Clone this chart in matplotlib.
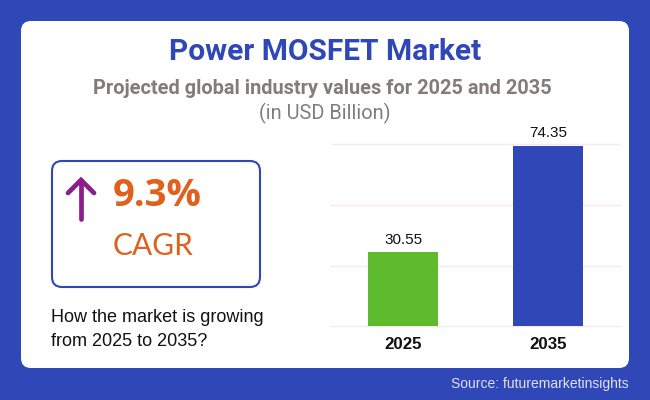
import matplotlib
matplotlib.use("Agg")
from matplotlib import pyplot as plt
from matplotlib.patches import FancyBboxPatch

years = ["2025", "2035"]
values = [30.55, 74.35]
value_labels = ["30.55", "74.35"]
bar_colors = ["#5FBB2E", "#3047B8"]
y_ticks = [0, 25, 50, 75]

BLUE = "#3047B8"
ORANGE = "#E0601C"
PURPLE = "#8A1E8C"
GREY = "#847B7B"

W, H = 650, 400
fig = plt.figure(figsize=(6.5, 4), dpi=100, facecolor=BLUE)

# pixel coordinate layer for the card, box and text
bg = fig.add_axes([0, 0, 1, 1])
bg.set_xlim(0, W)
bg.set_ylim(H, 0)
bg.axis("off")

bg.add_patch(FancyBboxPatch((21, 21), 608, 347, boxstyle="round,pad=0,rounding_size=10",
                            fc="white", ec="none"))
bg.add_patch(FancyBboxPatch((52, 161), 208, 126, boxstyle="round,pad=0,rounding_size=10",
                            fc="white", ec=BLUE, lw=1.5))

bg.text(325, 52, "Power MOSFET Market", family="Roboto", weight="bold", fontsize=21.5,
        color=BLUE, ha="center", va="center")
bg.text(322.5, 89, "Projected global industry values for 2025 and 2035", family="Roboto", weight="bold",
        fontsize=14.4, color=GREY, ha="center", va="center")
bg.text(325, 113, "(in USD Billion)", family="Roboto", weight="normal", fontsize=14.4,
        color=GREY, ha="center", va="center")

# up arrow
bg.plot([81, 81], [219, 180], color=PURPLE, lw=3.4, solid_capstyle="round")
bg.plot([68, 81, 94], [193, 180, 193], color=PURPLE, lw=3.4, solid_capstyle="round",
        solid_joinstyle="miter")

bg.text(113, 196, "9.3%", family="Open Sans", weight="bold", fontsize=27.5, color=ORANGE,
        ha="left", va="center")
bg.text(113, 246, "CAGR", family="Lato", weight="normal", fontsize=21.5, color=ORANGE,
        ha="left", va="center")

bg.text(51, 317.5, "How the market is growing", family="Liberation Sans", fontsize=12.95,
        color="#111111", ha="left", va="center")
bg.text(51, 342, "from 2025 to 2035?", family="Liberation Sans", fontsize=12.95,
        color="#111111", ha="left", va="center")
bg.text(629, 384, "Source: futuremarketinsights", family="Liberation Sans", fontsize=10,
        color="#DDE2F7", ha="right", va="center")

# bar chart
ax = fig.add_axes([331 / W, 1 - 326.3 / H, 289 / W, (326.3 - 144.3) / H])
ax.patch.set_alpha(0)
ax.bar(years, values, width=0.483, color=bar_colors, zorder=3)
ax.set_xlim(-0.5, 1.5)
ax.set_ylim(0, 75)
ax.set_yticks(y_ticks)
ax.grid(axis="y", color="#FBE8EC", lw=1, zorder=0, clip_on=False)
ax.tick_params(left=False, bottom=False, labelleft=False, pad=4)
for side in ax.spines.values():
    side.set_visible(False)
for label in ax.get_xticklabels():
    label.set_family("Liberation Sans")
    label.set_weight("bold")
    label.set_fontsize(12.2)
    label.set_color("#111111")
for i, v in enumerate(values):
    ax.annotate(value_labels[i], (i, v), xytext=(0, 4), textcoords="offset points", ha="center",
                va="bottom", family="Liberation Sans", fontsize=11, color="#111111",
                annotation_clip=False)

fig.savefig("out.png", dpi=100, facecolor=BLUE)
